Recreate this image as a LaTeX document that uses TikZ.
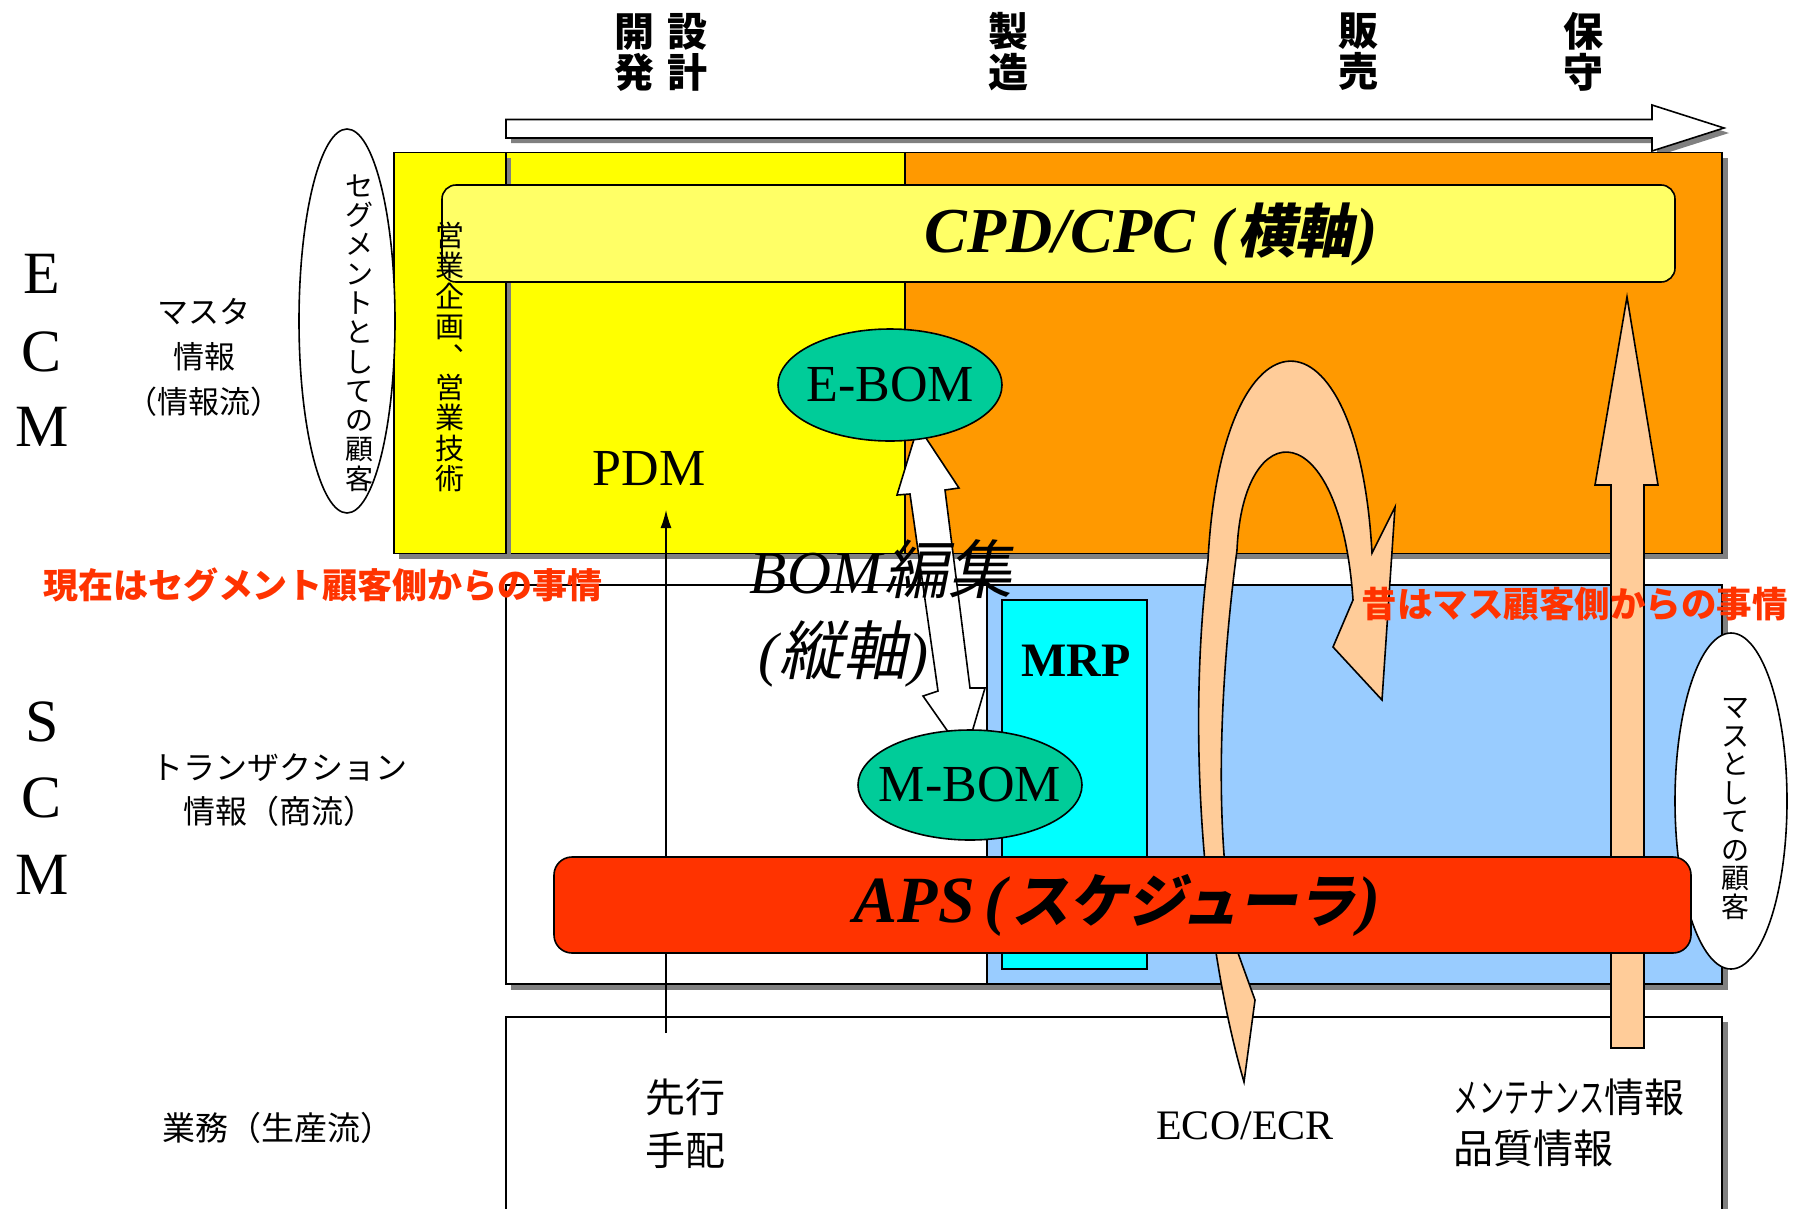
\documentclass[tikz,border=0pt]{standalone}
\usepackage{fontspec}
\usepackage{graphicx}
\setmainfont{Liberation Serif}
\newfontfamily\jp{Noto Sans CJK JP}
\newfontfamily\jpsl{Noto Sans CJK JP}[FakeSlant=0.2]
\usetikzlibrary{arrows.meta,shapes.geometric}
\newcommand{\myfs}[2]{\fontsize{#1}{#2}\selectfont}
\definecolor{yel}{HTML}{FFFF00}
\definecolor{org}{HTML}{FF9900}
\definecolor{cpdc}{HTML}{FFFF66}
\definecolor{tealc}{HTML}{00CC99}
\definecolor{bluc}{HTML}{99CCFF}
\definecolor{cync}{HTML}{00FFFF}
\definecolor{apsc}{HTML}{FF3300}
\definecolor{peach}{HTML}{FFCC99}
\definecolor{redt}{HTML}{FF3300}
\definecolor{shadowc}{HTML}{808080}
\begin{document}
\begin{tikzpicture}[x=1pt,y=-1pt,line width=1.6pt,line join=miter,
  box/.style={draw=black},
  ell/.style={ellipse,draw=black,inner sep=0pt},
  jplabel/.style={font=\jp\myfs{32}{44},align=center,inner sep=0pt},
  latlabel/.style={inner sep=0pt},
  vtext/.style={font=\jp\myfs{28}{29.3},align=center,inner sep=0pt},
  blockarrow/.style={draw=black,fill=peach,line width=1.6pt}]
\useasboundingbox (0,0) rectangle (1797,1208);
\clip (0,0) rectangle (1797,1208);
\fill[white] (0,0) rectangle (1797,1208);

% top process arrow
\fill[shadowc,shift={(5,5)}] (506,119.5) -- (1652,119.5) -- (1652,105) -- (1724,128) -- (1652,151) -- (1652,138) -- (506,138) -- cycle;
\draw[fill=white] (506,119.5) -- (1652,119.5) -- (1652,105) -- (1724,128) -- (1652,151) -- (1652,138) -- (506,138) -- cycle;

% ECM boxes
\fill[shadowc] (511,158) rectangle (1728,559);
\draw[box,fill=yel] (506,152.5) rectangle (905,553.5);
\draw[box,fill=org] (905,152.5) rectangle (1722,553.5);
\fill[shadowc] (399,158) rectangle (511,559);
\draw[box,fill=yel] (394,152.5) rectangle (506,553.5);
\draw[box,fill=cpdc,rounded corners=14] (442,185) rectangle (1675,282);

% left ellipse
\node[ell,fill=white,minimum width=96,minimum height=384] (segell) at (347,321) {};

% SCM boxes
\fill[shadowc] (511,590) rectangle (1728,990);
\draw[box,fill=white] (506,585) rectangle (987,984);
\draw[box,fill=bluc] (987,585) rectangle (1722,984);
\draw[box,fill=cync] (1002,600) rectangle (1147,969);

% bottom box
\fill[shadowc] (511,1022) rectangle (1728,1240);
\draw[box,fill=white] (506,1017) rectangle (1722,1240);

% thin arrow
\coordinate (senko) at (666,1033);
\coordinate (pdmin) at (666,510);
\draw[line width=1.3pt,-{Latex[length=18pt,width=11pt]}] (senko) -- (pdmin);

% curved peach arrow
\draw[blockarrow] (1244,1082) .. controls (1200,930) and (1188,720) .. (1208,560)
  .. controls (1222,296) and (1358,296) .. (1372,553) -- (1395,507) -- (1382,700) -- (1333,647) -- (1353,600)
  .. controls (1340,412) and (1243,412) .. (1237,550)
  .. controls (1220,680) and (1212,840) .. (1238,953) -- (1255,1000) -- cycle;

% straight peach arrow
\draw[blockarrow] (1611,1048) -- (1611,485) -- (1595,485) -- (1627,297) -- (1658,485) -- (1644,485) -- (1644,1048) -- cycle;

% BOM double arrow
\draw[fill=white] (918,426) -- (959,488) -- (945,490) -- (970,688) -- (985,688) -- (965,756) -- (923,696) -- (938,691) -- (910,494) -- (897,495) -- cycle;

% BOM ellipses
\node[ell,fill=tealc,minimum width=224,minimum height=112] (ebom) at (890,385) {};
\node[ell,fill=tealc,minimum width=224,minimum height=110] (mbom) at (970,785) {};

% right ellipse
\node[ell,fill=white,minimum width=112,minimum height=336] (masell) at (1731,801) {};

% APS box
\draw[box,fill=apsc,rounded corners=18] (554,857) rectangle (1691,953);

% ---- texts ----
\node[font=\jp\bfseries\myfs{40}{41},align=center,inner sep=0pt] (kaihatsu) at (661,52) {開\hspace{13pt}設\\発\hspace{13pt}計};
\node[font=\jp\bfseries\myfs{40}{41},align=center,inner sep=0pt] (seizo) at (1008,52) {製\\造};
\node[font=\jp\bfseries\myfs{40}{41},align=center,inner sep=0pt] (hanbai) at (1358,52) {販\\売};
\node[font=\jp\bfseries\myfs{40}{41},align=center,inner sep=0pt] (hoshu) at (1583,52) {保\\守};

\node[latlabel,font=\myfs{60}{60}] (e1) at (42,274) {E};
\node[latlabel,font=\myfs{60}{60}] (c1) at (42,352) {C};
\node[latlabel,font=\myfs{60}{60}] (m1) at (42,427) {M};
\node[latlabel,font=\myfs{60}{60}] (s2) at (42,722) {S};
\node[latlabel,font=\myfs{60}{60}] (c2) at (42,798) {C};
\node[latlabel,font=\myfs{60}{60}] (m2) at (42,875) {M};

\node[jplabel,font=\jp\myfs{31}{45}] (masuta) at (204,357) {マスタ\\情報\\（情報流）};
\node[jplabel] (tran) at (279,790) {トランザクション\\情報（商流）};
\node[jplabel,font=\jp\myfs{33}{44}] (gyomu) at (278,1128) {業務（生産流）};

\node[vtext] (segtxt) at (359,333) {セ\\グ\\メ\\ン\\ト\\と\\し\\て\\の\\顧\\客};
\node[vtext,font=\jp\myfs{29}{30.4}] (eigyo) at (450,357) {営\\業\\企\\画\\︑\\営\\業\\技\\術};
\node[vtext,font=\jp\myfs{28}{28.5}] (mastxt) at (1735,809) {マ\\ス\\と\\し\\て\\の\\顧\\客};

\node[latlabel,font=\myfs{52}{52}] (pdm) at (649,469) {PDM};
\node[latlabel,font=\bfseries\itshape\myfs{64}{64},anchor=west] (cpd) at (924,234) {CPD/CPC\hspace{16pt}(\hspace{5pt}{\jpsl\bfseries\myfs{58}{58}横軸}\hspace{3pt})};
\node[latlabel,font=\myfs{52}{52}] (ebomt) at (ebom) {E-BOM};
\node[latlabel,font=\myfs{52}{52}] (mbomt) at (mbom) {M-BOM};
\node[latlabel,font=\bfseries\myfs{48}{48}] (mrp) at (1076,661) {MRP};
\node[latlabel,font=\itshape\myfs{61}{81},align=left,anchor=west] (bomt) at (749,613) {BOM\hspace{3pt}{\jpsl\myfs{64}{64}編集}\\\hspace{9pt}{\myfs{60}{81}(}\hspace{1pt}{\jpsl\myfs{64}{64}縦軸}\hspace{1pt}{\myfs{60}{81})}};
\node[latlabel,font=\bfseries\itshape\myfs{66}{66},anchor=west] (aps) at (853,905) {APS\hspace{10pt}(\hspace{5pt}{\jpsl\bfseries\myfs{58}{58}スケジューラ}\hspace{3pt})};

\node[latlabel,font=\jp\bfseries\myfs{35}{35},text=redt] (genzai) at (323,585) {現在はセグメント顧客側からの事情};
\node[latlabel,font=\jp\bfseries\myfs{35.5}{35.5},text=redt,anchor=west] (mukashi) at (1361,604) {昔はマス顧客側からの事情};

\node[jplabel,font=\jp\myfs{40}{53}] (sakiko) at (685,1124) {先行\\手配};
\node[latlabel,font=\myfs{42}{42}] (eco) at (1245,1126) {ECO/ECR};
\node[jplabel,font=\jp\myfs{40}{51},align=left,anchor=west] (maint) at (1453,1123) {\scalebox{0.63}[1]{メンテナンス}情報\\品質情報};
\end{tikzpicture}
\end{document}
